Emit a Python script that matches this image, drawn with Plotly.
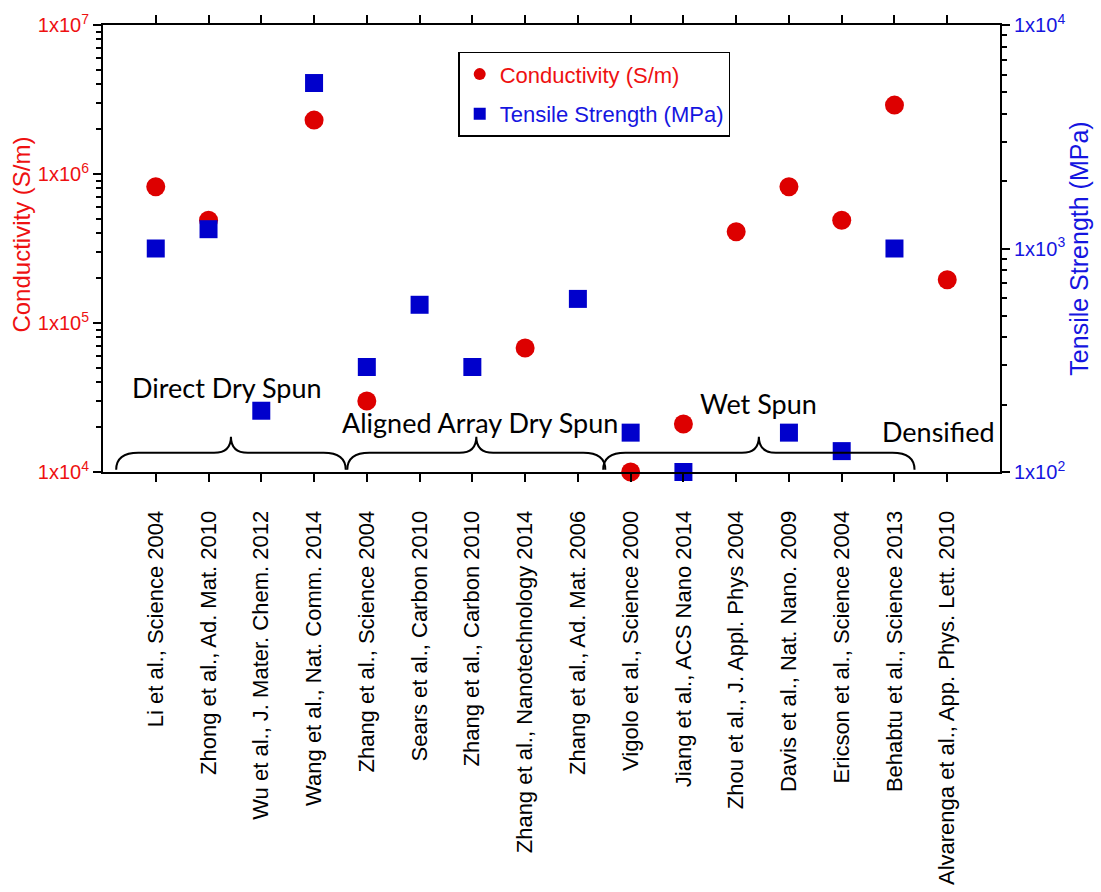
import plotly.graph_objects as go

# Fibre references on the category axis
references = [
    "Li et al., Science 2004",
    "Zhong et al., Ad. Mat. 2010",
    "Wu et al., J. Mater. Chem. 2012",
    "Wang et al., Nat. Comm. 2014",
    "Zhang et al., Science 2004",
    "Sears et al., Carbon 2010",
    "Zhang et al., Carbon 2010",
    "Zhang et al., Nanotechnology 2014",
    "Zhang et al., Ad. Mat. 2006",
    "Vigolo et al., Science 2000",
    "Jiang et al., ACS Nano 2014",
    "Zhou et al., J. Appl. Phys 2004",
    "Davis et al., Nat. Nano. 2009",
    "Ericson et al., Science 2004",
    "Behabtu et al., Science 2013",
    "Alvarenga et al., App. Phys. Lett. 2010",
]

# Electrical conductivity, S/m (None = not reported)
conductivity = [8.2e5, 4.9e5, None, 2.3e6, 3.0e4, None, None, 6.8e4, None,
                1.0e4, 2.1e4, 4.1e5, 8.2e5, 4.9e5, 2.9e6, 1.95e5]

# Tensile strength, MPa (None = not reported)
tensile_strength = [1000, 1220, 188, 5500, 295, 560, 295, None, 595,
                    150, 100, None, 150, 124, 1000, None]

# Processing-route braces: (start, end) along the category axis, and labels
brace_spans = [(0.25, 4.6), (4.63, 9.52), (9.48, 15.38)]
group_labels = ["Direct Dry Spun", "Aligned Array Dry Spun", "Wet Spun", "Densified"]
group_label_pos = [(2.35, 0.188), (7.15, 0.110), (12.43, 0.154), (15.84, 0.090)]

RED = "#DD0000"
BLUE = "#0000CC"
RED_TXT = "#EE1111"
BLUE_TXT = "#1515E0"
FONT = "Liberation Sans, Arial, sans-serif"

xs = list(range(1, len(references) + 1))

fig = go.Figure()
fig.add_trace(go.Scatter(
    x=xs, y=conductivity, mode="markers", yaxis="y",
    name=f"<span style='color:{RED_TXT}'>Conductivity (S/m)</span>",
    legendgroup="c",
    marker=dict(symbol="circle", size=19, color=RED),
    cliponaxis=False,
))
fig.add_trace(go.Scatter(
    x=xs, y=tensile_strength, mode="markers", yaxis="y2",
    name=f"<span style='color:{BLUE_TXT}'>Tensile Strength (MPa)</span>",
    legendgroup="t",
    marker=dict(symbol="square", size=18, color=BLUE),
    cliponaxis=False,
))


def minor_vals(lo, hi):
    vals = []
    for e in range(lo, hi):
        for d in range(2, 10):
            vals.append(d * 10 ** e)
    return vals


def pow_label(e):
    return f"1x10<sup>{e}</sup>"


# Curly braces under each processing group
shapes = []
yb, yf, yt = 0.005, 0.043, 0.079
re_, rt = 0.42, 0.32
for x0, x1 in brace_spans:
    xm = (x0 + x1) / 2
    path = (f"M {x0},{yb} Q {x0},{yf} {x0 + re_},{yf} "
            f"L {xm - rt},{yf} Q {xm},{yf} {xm},{yt} "
            f"Q {xm},{yf} {xm + rt},{yf} "
            f"L {x1 - re_},{yf} Q {x1},{yf} {x1},{yb}")
    shapes.append(dict(type="path", path=path, xref="x", yref="paper",
                       line=dict(color="black", width=2)))

annotations = []
for label, (gx, gy) in zip(group_labels, group_label_pos):
    annotations.append(dict(
        x=gx, y=gy, xref="x", yref="paper", text=label, showarrow=False,
        xanchor="center", yanchor="middle",
        font=dict(family="Lato, Carlito, sans-serif", size=27, color="black"),
    ))

# Left axis title, placed a little above the axis centre
annotations.append(dict(
    x=-0.091, y=0.532, xref="paper", yref="paper",
    text="Conductivity (S/m)", textangle=-90, showarrow=False,
    xanchor="center", yanchor="middle",
    font=dict(family=FONT, size=24, color=RED_TXT),
))

axis_common = dict(
    showline=True, linecolor="black", linewidth=2,
    ticks="outside", ticklen=8, tickwidth=1.5, tickcolor="black",
    showgrid=False, zeroline=False, automargin=False,
)

fig.update_layout(
    width=1101, height=892,
    margin=dict(l=103, r=101, t=25, b=420),
    paper_bgcolor="white", plot_bgcolor="white",
    font=dict(family=FONT, color="black"),
    showlegend=True,
    legend=dict(
        x=0.396, y=0.94, xanchor="left", yanchor="top",
        bordercolor="black", borderwidth=1.5, bgcolor="white",
        font=dict(family=FONT, size=22),
        traceorder="grouped", tracegroupgap=8,
        itemsizing="constant",
    ),
    xaxis=dict(
        **axis_common,
        range=[0, 17], mirror="ticks",
        tickmode="array", tickvals=xs, ticktext=references,
        tickangle=-90, tickfont=dict(family=FONT, size=22, color="black"),
        ticklabelstandoff=20,
    ),
    yaxis=dict(
        **axis_common,
        type="log", range=[4, 7],
        tickmode="array", tickvals=[1e4, 1e5, 1e6, 1e7],
        ticktext=[pow_label(e) for e in (4, 5, 6, 7)],
        tickfont=dict(family=FONT, size=20, color=RED_TXT),
        minor=dict(ticks="outside", ticklen=5, tickwidth=1.5, tickcolor="black",
                   tickmode="array", tickvals=minor_vals(4, 7)),
    ),
    yaxis2=dict(
        **axis_common,
        type="log", range=[2, 4], overlaying="y", side="right",
        tickmode="array", tickvals=[1e2, 1e3, 1e4],
        ticktext=[pow_label(e) for e in (2, 3, 4)],
        tickfont=dict(family=FONT, size=20, color=BLUE_TXT),
        minor=dict(ticks="outside", ticklen=5, tickwidth=1.5, tickcolor="black",
                   tickmode="array", tickvals=minor_vals(2, 4)),
        title=dict(text="Tensile Strength (MPa)", standoff=6,
                   font=dict(family=FONT, size=25, color=BLUE_TXT)),
    ),
    shapes=shapes,
    annotations=annotations,
)

fig.write_html("out.html")
